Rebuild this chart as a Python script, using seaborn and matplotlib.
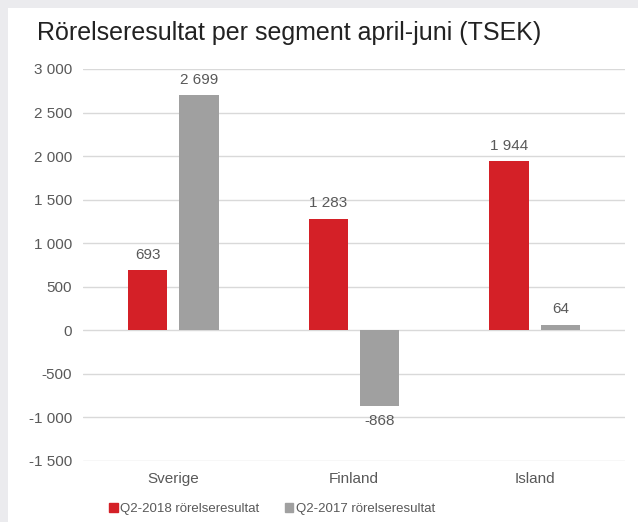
import matplotlib
matplotlib.use("Agg")
import matplotlib.pyplot as plt
from matplotlib.patches import Rectangle
import seaborn as sns
import pandas as pd

categories = ["Sverige", "Finland", "Island"]
series_names = ["Q2-2018 rörelseresultat", "Q2-2017 rörelseresultat"]
q2_2018 = [693, 1283, 1944]
q2_2017 = [2699, -868, 64]
yticks = [-1500, -1000, -500, 0, 500, 1000, 1500, 2000, 2500, 3000]
title = "Rörelseresultat per segment april-juni (TSEK)"

df = pd.DataFrame({
    "Segment": categories * 2,
    "Serie": [series_names[0]] * 3 + [series_names[1]] * 3,
    "Värde": q2_2018 + q2_2017,
})

sns.set_theme(style="white")
plt.rcParams["font.family"] = ["Liberation Sans", "DejaVu Sans"]
txt = "#595959"

fig = plt.figure(figsize=(6.38, 5.22), dpi=100)
fig.patch.set_facecolor("#EBEBEE")
fig.patches.append(Rectangle((8 / 638, 0), 1, 1 - 8 / 522, transform=fig.transFigure,
                             facecolor="white", edgecolor="none", zorder=-10))
ax = fig.add_axes([83 / 638, 1 - 461 / 522, (625 - 83) / 638, (461 - 69) / 522])
ax.set_facecolor("none")

sns.barplot(data=df, x="Segment", y="Värde", hue="Serie", order=categories,
            hue_order=series_names, palette=["#D42027", "#A0A0A0"],
            width=0.567, gap=0.23, ax=ax, zorder=3, saturation=1, linewidth=0)

ax.set_ylim(-1500, 3000)
ax.set_yticks(yticks)
ax.set_yticklabels([f"{v:,}".replace(",", " ") for v in yticks], color=txt, fontsize=11)
ax.tick_params(axis="x", colors=txt, labelsize=11, length=0, pad=8)
ax.tick_params(axis="y", length=0, pad=8)
ax.set_xlabel("")
ax.set_ylabel("")
ax.grid(axis="y", color="#D9D9D9", linewidth=1, zorder=0)
for s in ax.spines.values():
    s.set_visible(False)

for cont in ax.containers:
    ax.bar_label(cont, labels=[f"{v:,.0f}".replace(",", " ") for v in cont.datavalues],
                 padding=6, color=txt, fontsize=11)

ax.legend_.remove()
handles = [Rectangle((0, 0), 1, 1, color=c) for c in ["#D42027", "#A0A0A0"]]
fig.legend(handles, series_names, loc="center", bbox_to_anchor=(272 / 638, 1 - 509 / 522),
           ncol=2, frameon=False, fontsize=9.5, handlelength=0.65, handleheight=0.65,
           handletextpad=0.2, columnspacing=1.9, labelcolor=txt)

fig.text(37 / 638, 1 - 33 / 522, title, fontsize=18, color="#222222", va="center", ha="left")

fig.savefig("out.png", dpi=100)
